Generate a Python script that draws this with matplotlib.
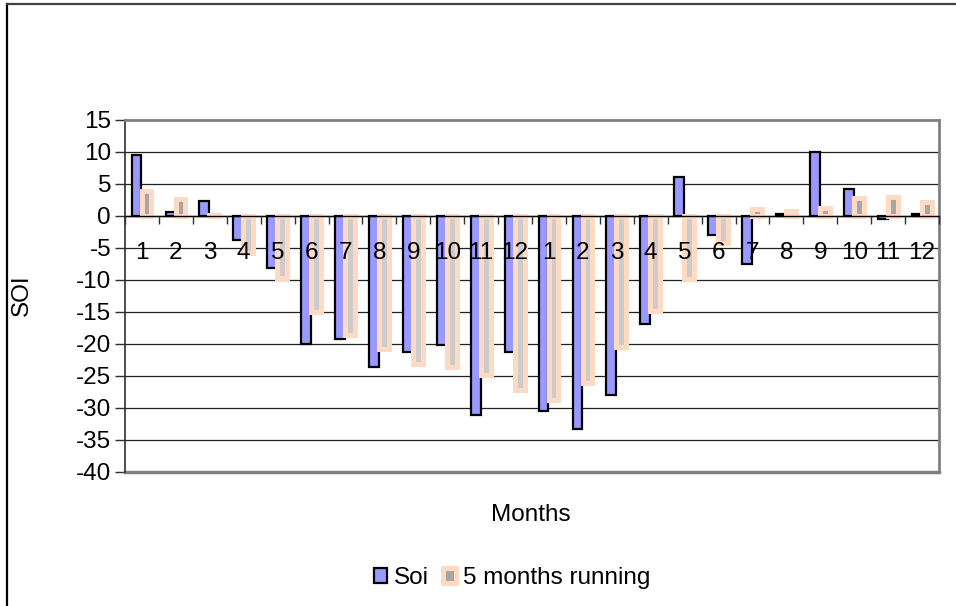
import matplotlib.pyplot as plt
from matplotlib.lines import Line2D
import numpy as np

plt.rcParams['font.family'] = ['Liberation Sans', 'DejaVu Sans']

months = ['1', '2', '3', '4', '5', '6', '7', '8', '9', '10', '11', '12',
          '1', '2', '3', '4', '5', '6', '7', '8', '9', '10', '11', '12']
soi = [9.5, 0.6, 2.3, -3.8, -8.2, -20.1, -19.3, -23.6, -21.4, -20.2, -31.1, -21.3,
       -30.6, -33.3, -28.0, -16.9, 6.0, -3.1, -7.6, 0.2, 9.9, 4.2, -0.6, 0.2]
running = [3.8, 2.6, 0.1, -5.9, -9.8, -15.0, -18.6, -20.9, -23.2, -23.6, -24.9, -27.3,
           -28.8, -26.1, -20.5, -14.9, -9.9, -4.3, 1.0, 0.65, 1.2, 2.7, 2.9, 2.1]
yticks = list(range(-40, 20, 5))

FS = 17.5
fig = plt.figure(figsize=(9.56, 6.06), dpi=100)
ax = fig.add_axes([125 / 956, 1 - 471.5 / 606, 814 / 956, 352 / 606])

x = np.arange(len(months))
w = 0.29
grey = ['#A6A6A6' if v >= 0 else '#CCCCCC' for v in running]

ax.bar(x - 0.16, soi, width=w, color='#9999FF', edgecolor='black', linewidth=1.6,
       zorder=3, label='Soi')
ax.bar(x + 0.135, running, width=w, color=grey, edgecolor='#FFDAC2', linewidth=3.6,
       zorder=4, label='5 months running')

ax.set_xlim(-0.5, len(months) - 0.5)
ax.set_ylim(-40, 15)
ax.set_yticks(yticks)
ax.set_yticklabels([str(t) for t in yticks], fontsize=FS)
for t in yticks[1:-1]:
    ax.axhline(t, color='#202020', linewidth=0.9, zorder=1)

# category axis crosses at zero, labels drawn over the bars
ax.spines['bottom'].set_position(('data', 0))
ax.spines['bottom'].set_color('black')
ax.spines['bottom'].set_linewidth(1.0)
ax.spines['bottom'].set_zorder(5)
ax.xaxis.set_zorder(6)
ax.set_xticks(x)
ax.set_xticklabels(months, fontsize=FS)
ax.tick_params(axis='x', which='major', length=0, pad=19)
ax.set_xticks(np.arange(-0.5, len(months)), minor=True)
ax.tick_params(axis='x', which='minor', length=6, width=1, color='#303030', direction='out')
ax.tick_params(axis='y', length=7, width=1, color='#303030', pad=3)

ax.spines['left'].set_color('#303030')
ax.spines['left'].set_linewidth(1.2)
for s in ['top', 'right']:
    ax.spines[s].set_color('#808080')
    ax.spines[s].set_linewidth(2)
# grey frame at the bottom of the plot area
ax.axhline(-40, color='#808080', linewidth=2.5, zorder=2, clip_on=False)

fig.text(22 / 956, 1 - 295 / 606, 'SOI', rotation=90, fontsize=FS, ha='center', va='center')
fig.text(531 / 956, 1 - 515 / 606, 'Months', fontsize=FS, ha='center', va='center')

fig.legend(loc='center', bbox_to_anchor=(512 / 956, 1 - 578 / 606), ncol=2, frameon=False,
           fontsize=FS, handlelength=0.55, handleheight=0.55, handletextpad=0.25,
           columnspacing=0.6, borderpad=0)

# outer chart border
fig.add_artist(Line2D([6.5 / 956, 6.5 / 956], [0, 1 - 4 / 606], color='black', linewidth=1.6,
                      transform=fig.transFigure))
fig.add_artist(Line2D([6.5 / 956, 1], [1 - 4 / 606, 1 - 4 / 606], color='#404040', linewidth=1.6,
                      transform=fig.transFigure))

plt.savefig('out.png', dpi=100)
